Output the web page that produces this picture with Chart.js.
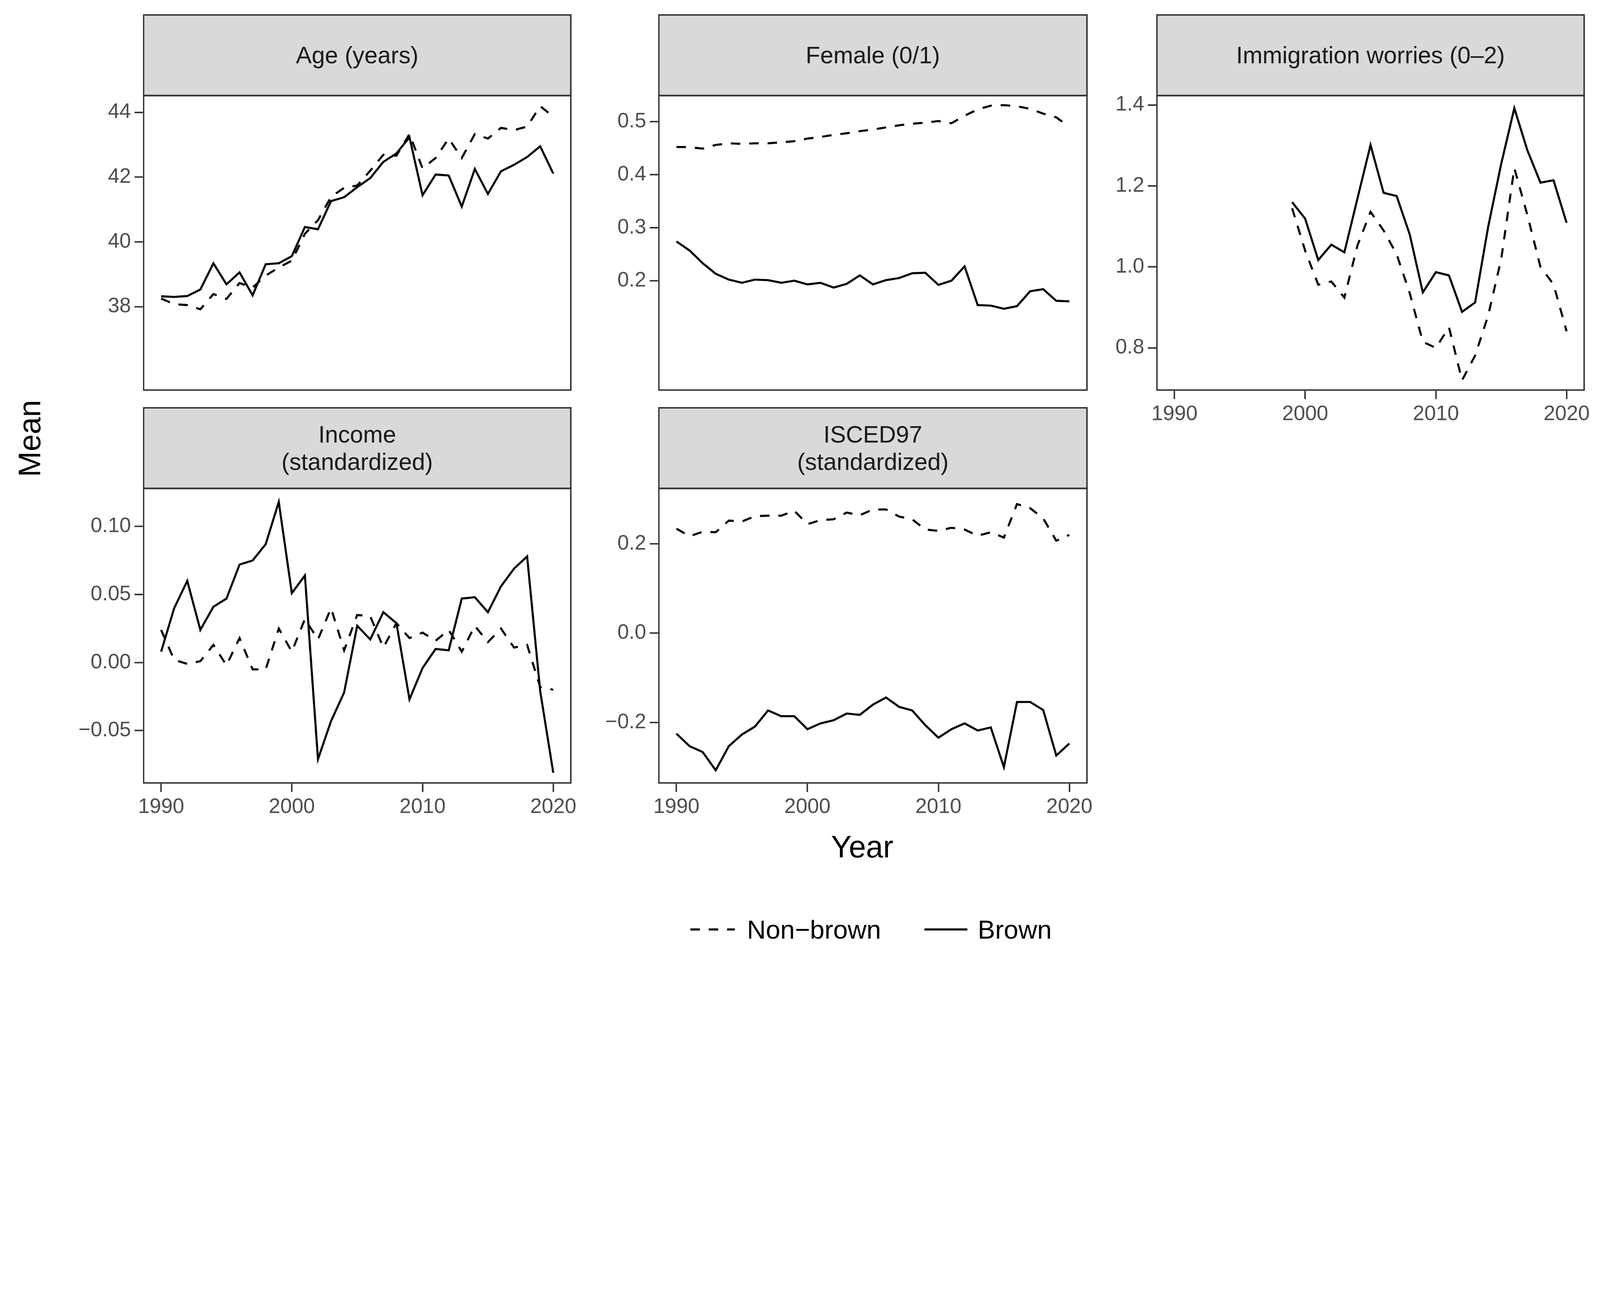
<!DOCTYPE html>
<html>
<head>
<meta charset="utf-8">
<script src="https://cdn.jsdelivr.net/npm/chart.js@4.4.1/dist/chart.umd.min.js"></script>
<style>
  html, body { margin: 0; padding: 0; background: #fff; overflow: hidden; }
  #root { position: absolute; left: 0; top: 0; width: 5400px; height: 3300px; transform-origin: 0 0;
          font-family: "Liberation Sans", Arial, sans-serif; background: #fff; }
  .box { position: absolute; border: 5px solid #333; box-sizing: border-box; pointer-events: none; }
  .strip { position: absolute; background: #d9d9d9; border: 5px solid #333; box-sizing: border-box;
           display: flex; align-items: center; justify-content: center; text-align: center;
           font-size: 80px; line-height: 1.15; color: #1a1a1a; }
  .wrap { position: absolute; }
  .lab { position: absolute; color: #000; font-size: 104px; }
</style>
</head>
<body>
<div id="root">
<div class="lab" style="left:2910px; top:2858px; transform:translate(-50%,-50%);">Year</div>
<div class="lab" style="left:100px; top:1480px; transform:translate(-50%,-50%) rotate(-90deg);">Mean</div>
<svg style="position:absolute; left:0; top:0;" width="5400" height="3300">
  <line x1="2330" y1="3137" x2="2480" y2="3137" stroke="#000" stroke-width="7" stroke-dasharray="32 30"/>
  <line x1="3120" y1="3137" x2="3265" y2="3137" stroke="#000" stroke-width="7"/>
  <text x="2521" y="3168" font-family="Liberation Sans, Arial, sans-serif" font-size="88" fill="#000">Non−brown</text>
  <text x="3300" y="3168" font-family="Liberation Sans, Arial, sans-serif" font-size="88" fill="#000">Brown</text>
</svg>
</div>
<script>
// years
const years = [1990, 1991, 1992, 1993, 1994, 1995, 1996, 1997, 1998, 1999, 2000,
  2001, 2002, 2003, 2004, 2005, 2006, 2007, 2008, 2009, 2010,
  2011, 2012, 2013, 2014, 2015, 2016, 2017, 2018, 2019, 2020];
const yearsImm = [1999, 2000, 2001, 2002, 2003, 2004, 2005, 2006, 2007, 2008, 2009, 2010,
  2011, 2012, 2013, 2014, 2015, 2016, 2017, 2018, 2019, 2020];

// Age (years)
const ageNonBrown = [38.25, 38.08, 38.05, 37.92, 38.39, 38.24, 38.73, 38.59, 38.96, 39.21, 39.42,
  40.25, 40.67, 41.39, 41.67, 41.74, 42.20, 42.69, 42.66, 43.33, 42.27,
  42.59, 43.19, 42.59, 43.33, 43.19, 43.52, 43.45, 43.56, 44.19, 43.87];
const ageBrown = [38.32, 38.30, 38.33, 38.53, 39.34, 38.69, 39.06, 38.35, 39.31, 39.34, 39.56,
  40.46, 40.39, 41.26, 41.38, 41.69, 41.97, 42.47, 42.73, 43.23, 41.44,
  42.08, 42.05, 41.09, 42.25, 41.48, 42.18, 42.38, 42.62, 42.95, 42.11];

// Female (0/1)
const femNonBrown = [0.452, 0.452, 0.449, 0.456, 0.459, 0.458, 0.459, 0.459, 0.461, 0.463, 0.468,
  0.471, 0.475, 0.478, 0.482, 0.485, 0.489, 0.493, 0.496, 0.498, 0.501,
  0.497, 0.511, 0.523, 0.530, 0.531, 0.529, 0.524, 0.515, 0.508, 0.490];
const femBrown = [0.274, 0.257, 0.233, 0.213, 0.202, 0.196, 0.202, 0.201, 0.196, 0.200, 0.193,
  0.196, 0.187, 0.194, 0.210, 0.193, 0.201, 0.205, 0.214, 0.215, 0.192,
  0.200, 0.227, 0.154, 0.153, 0.147, 0.152, 0.180, 0.184, 0.162, 0.161];

// Immigration worries (0-2), from 1999
const immNonBrown = [1.145, 1.040, 0.956, 0.964, 0.924, 1.053, 1.136, 1.090, 1.031, 0.935, 0.815, 0.800,
  0.851, 0.720, 0.781, 0.880, 1.020, 1.244, 1.128, 1.000, 0.957, 0.841];
const immBrown = [1.160, 1.119, 1.017, 1.055, 1.036, 1.169, 1.301, 1.183, 1.175, 1.080, 0.937, 0.987,
  0.979, 0.889, 0.912, 1.099, 1.255, 1.392, 1.288, 1.208, 1.214, 1.109];

// Income (standardized)
const incNonBrown = [0.024, 0.002, -0.001, 0.001, 0.013, -0.002, 0.018, -0.005, -0.005, 0.025, 0.008,
  0.032, 0.017, 0.040, 0.009, 0.035, 0.034, 0.011, 0.029, 0.018, 0.022,
  0.016, 0.024, 0.008, 0.027, 0.015, 0.025, 0.011, 0.013, -0.018, -0.020];
const incBrown = [0.008, 0.040, 0.060, 0.024, 0.041, 0.047, 0.072, 0.075, 0.087, 0.118, 0.051,
  0.064, -0.071, -0.043, -0.022, 0.027, 0.017, 0.037, 0.029, -0.027, -0.004,
  0.010, 0.009, 0.047, 0.048, 0.037, 0.056, 0.069, 0.078, -0.021, -0.081];

// ISCED97 (standardized)
const iscNonBrown = [0.234, 0.217, 0.227, 0.226, 0.252, 0.250, 0.262, 0.263, 0.263, 0.274, 0.244,
  0.253, 0.255, 0.270, 0.264, 0.277, 0.277, 0.261, 0.255, 0.232, 0.229,
  0.236, 0.232, 0.218, 0.226, 0.214, 0.289, 0.280, 0.257, 0.207, 0.220];
const iscBrown = [-0.225, -0.253, -0.266, -0.307, -0.253, -0.227, -0.209, -0.173, -0.186, -0.186, -0.215,
  -0.202, -0.195, -0.180, -0.183, -0.160, -0.144, -0.165, -0.173, -0.206, -0.234,
  -0.215, -0.202, -0.218, -0.211, -0.300, -0.154, -0.154, -0.172, -0.274, -0.247];

const xTicks = [1990, 2000, 2010, 2020];

const root = document.getElementById('root');
const sc = Math.min(window.innerWidth / 5400, window.innerHeight / 3300);
root.style.transform = 'scale(' + sc + ')';

const LEFT = 400, BOTTOM = 250, RIGHT = 120, PAD = 70;
const fmt = (d) => (v) => (v < 0 ? '\u2212' : '') + Math.abs(v).toFixed(d);

function pts(xs, ys) { return xs.map((x, i) => ({ x: x, y: ys[i] })); }

function panel(p) {
  const plotW = p.x1 - p.x0, plotH = p.y1 - p.y0;
  const padB = p.showX ? 0 : PAD;
  const w = LEFT + plotW + RIGHT, h = PAD + plotH + (p.showX ? BOTTOM : padB);
  const wrap = document.createElement('div');
  wrap.className = 'wrap';
  wrap.style.left = (p.x0 - LEFT) + 'px';
  wrap.style.top = (p.y0 - PAD) + 'px';
  const cv = document.createElement('canvas');
  cv.width = w; cv.height = h;
  cv.style.width = w + 'px'; cv.style.height = h + 'px';
  wrap.appendChild(cv);
  root.appendChild(wrap);

  const strip = document.createElement('div');
  strip.className = 'strip';
  strip.style.left = p.x0 + 'px'; strip.style.top = p.sy + 'px';
  strip.style.width = plotW + 'px'; strip.style.height = (p.y0 - p.sy + 5) + 'px';
  strip.innerHTML = p.title;
  root.appendChild(strip);

  const box = document.createElement('div');
  box.className = 'box';
  box.style.left = p.x0 + 'px'; box.style.top = p.y0 + 'px';
  box.style.width = plotW + 'px'; box.style.height = plotH + 'px';
  root.appendChild(box);

  const tickFont = { family: '"Liberation Sans", Arial, sans-serif', size: 70 };
  new Chart(cv.getContext('2d'), {
    type: 'line',
    data: {
      datasets: [
        { label: 'Non\u2212brown', data: pts(p.xs, p.nb), borderColor: '#000', borderWidth: 7,
          borderDash: [32, 30], pointRadius: 0, tension: 0, fill: false },
        { label: 'Brown', data: pts(p.xs, p.br), borderColor: '#000', borderWidth: 7,
          pointRadius: 0, tension: 0, fill: false }
      ]
    },
    options: {
      responsive: false, animation: false, devicePixelRatio: 1,
      layout: { padding: { left: 0, right: RIGHT, top: PAD, bottom: padB } },
      plugins: { legend: { display: false }, tooltip: { enabled: false } },
      scales: {
        x: {
          type: 'linear', min: 1988.6, max: 2021.4, display: p.showX,
          afterBuildTicks: (s) => { s.ticks = xTicks.map(v => ({ value: v })); },
          afterFit: (s) => { s.height = BOTTOM; },
          grid: { drawOnChartArea: false, drawTicks: true, tickLength: 28, tickColor: '#333', tickWidth: 5 },
          border: { display: false },
          ticks: { color: '#4d4d4d', font: tickFont, padding: 10, maxRotation: 0, callback: (v) => String(v) }
        },
        y: {
          min: p.ymin, max: p.ymax,
          afterBuildTicks: (s) => { s.ticks = p.yt.map(v => ({ value: v })); },
          afterFit: (s) => { s.width = LEFT; },
          grid: { drawOnChartArea: false, drawTicks: true, tickLength: 28, tickColor: '#333', tickWidth: 5 },
          border: { display: false },
          ticks: { color: '#4d4d4d', font: tickFont, padding: 12, callback: fmt(p.dec) }
        }
      }
    }
  });
}

panel({ title: 'Age (years)', x0: 482, x1: 1929, sy: 48, y0: 320, y1: 1319, showX: false,
  xs: years, nb: ageNonBrown, br: ageBrown, ymin: 37.69, ymax: 44.54, yt: [38, 40, 42, 44], dec: 0 });
panel({ title: 'Female (0/1)', x0: 2221, x1: 3671, sy: 48, y0: 320, y1: 1319, showX: false,
  xs: years, nb: femNonBrown, br: femBrown, ymin: 0.132, ymax: 0.5505, yt: [0.2, 0.3, 0.4, 0.5], dec: 1 });
panel({ title: 'Immigration worries (0\u20132)', x0: 3902, x1: 5349, sy: 48, y0: 320, y1: 1319, showX: true,
  xs: yearsImm, nb: immNonBrown, br: immBrown, ymin: 0.694, ymax: 1.425, yt: [0.8, 1.0, 1.2, 1.4], dec: 1 });
panel({ title: 'Income<br>(standardized)', x0: 482, x1: 1929, sy: 1374, y0: 1646, y1: 2645, showX: true,
  xs: years, nb: incNonBrown, br: incBrown, ymin: -0.089, ymax: 0.1285, yt: [-0.05, 0, 0.05, 0.1], dec: 2 });
panel({ title: 'ISCED97<br>(standardized)', x0: 2221, x1: 3671, sy: 1374, y0: 1646, y1: 2645, showX: true,
  xs: years, nb: iscNonBrown, br: iscBrown, ymin: -0.337, ymax: 0.3257, yt: [-0.2, 0, 0.2], dec: 1 });
</script>
</body>
</html>
